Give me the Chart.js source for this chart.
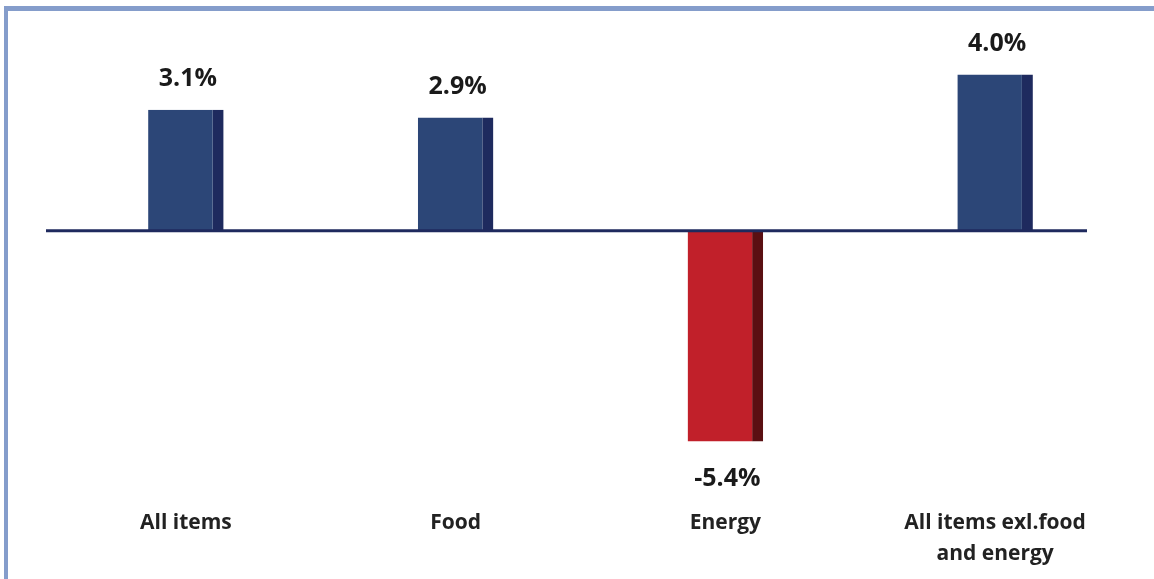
<!DOCTYPE html>
<html>
<head>
<meta charset="utf-8">
<script src="https://cdn.jsdelivr.net/npm/chart.js@4/dist/chart.umd.min.js"></script>
<style>
  html, body { margin: 0; padding: 0; background: #ffffff; }
  #wrap { position: relative; width: 1154px; height: 579px; }
  #frame { position: absolute; left: 4px; top: 6px; right: 0; bottom: 0;
           border-left: 4px solid #859dcb; border-top: 5px solid #859dcb; pointer-events: none; }
  canvas { position: absolute; left: 0; top: 0; }
</style>
</head>
<body>
<div id="wrap">
  <canvas id="c" width="1154" height="579"></canvas>
  <div id="frame"></div>
</div>
<script>
const categories = [["All items"], ["Food"], ["Energy"], ["All items exl.food", "and energy"]];
const values = [3.1, 2.9, -5.4, 4.0];
const valueLabels = ["3.1%", "2.9%", "-5.4%", "4.0%"];

const mainColors = values.map(v => v < 0 ? '#c1202a' : '#2c4677');
const sideColors = values.map(v => v < 0 ? '#5a0f12' : '#1e2a5e');

const zeroLinePlugin = {
  id: 'zeroLine',
  afterDatasetsDraw(chart, args, opts) {
    const ctx = chart.ctx;
    const y = chart.scales.y.getPixelForValue(0);
    ctx.save();
    ctx.strokeStyle = opts.color;
    ctx.lineWidth = opts.width;
    ctx.beginPath();
    ctx.moveTo(opts.x0, y);
    ctx.lineTo(opts.x1, y);
    ctx.stroke();
    ctx.restore();
  }
};

const valueLabelPlugin = {
  id: 'valueLabels',
  afterDatasetsDraw(chart, args, opts) {
    const ctx = chart.ctx;
    const meta = chart.getDatasetMeta(0);
    ctx.save();
    ctx.font = opts.font;
    ctx.fillStyle = opts.color;
    ctx.textAlign = 'center';
    ctx.textBaseline = 'middle';
    meta.data.forEach((bar, i) => {
      const v = values[i];
      const y = v >= 0 ? bar.y - opts.offsetUp : bar.y + opts.offsetDown;
      ctx.fillText(valueLabels[i], bar.x + 2, y);
    });
    ctx.restore();
  }
};

new Chart(document.getElementById('c'), {
  type: 'bar',
  data: {
    labels: categories,
    datasets: [{
      data: values,
      backgroundColor: mainColors,
      borderColor: sideColors,
      borderWidth: { top: 0, left: 0, bottom: 0, right: 11 },
      borderSkipped: false,
      categoryPercentage: 0.56,
      barPercentage: 0.5
    }]
  },
  options: {
    responsive: false,
    animation: false,
    layout: { padding: { left: 51, right: 24, top: 16, bottom: 0 } },
    plugins: {
      legend: { display: false },
      tooltip: { enabled: false },
      zeroLine: { color: '#1f2a5e', width: 3, x0: 46, x1: 1087 },
      valueLabels: { font: 'bold 25px "Open Sans"', color: '#1a1a1a', offsetUp: 31, offsetDown: 37 }
    },
    scales: {
      x: {
        grid: { display: false },
        border: { display: false },
        ticks: {
          color: '#222222',
          font: { family: 'Open Sans', weight: 'bold', size: 21, lineHeight: 1.45 },
          padding: -4,
          maxRotation: 0,
          autoSkip: false
        },
        afterFit(scale) { scale.height = 75; }
      },
      y: {
        display: false,
        min: -7,
        max: 5.5
      }
    }
  },
  plugins: [zeroLinePlugin, valueLabelPlugin]
});
</script>
</body>
</html>
